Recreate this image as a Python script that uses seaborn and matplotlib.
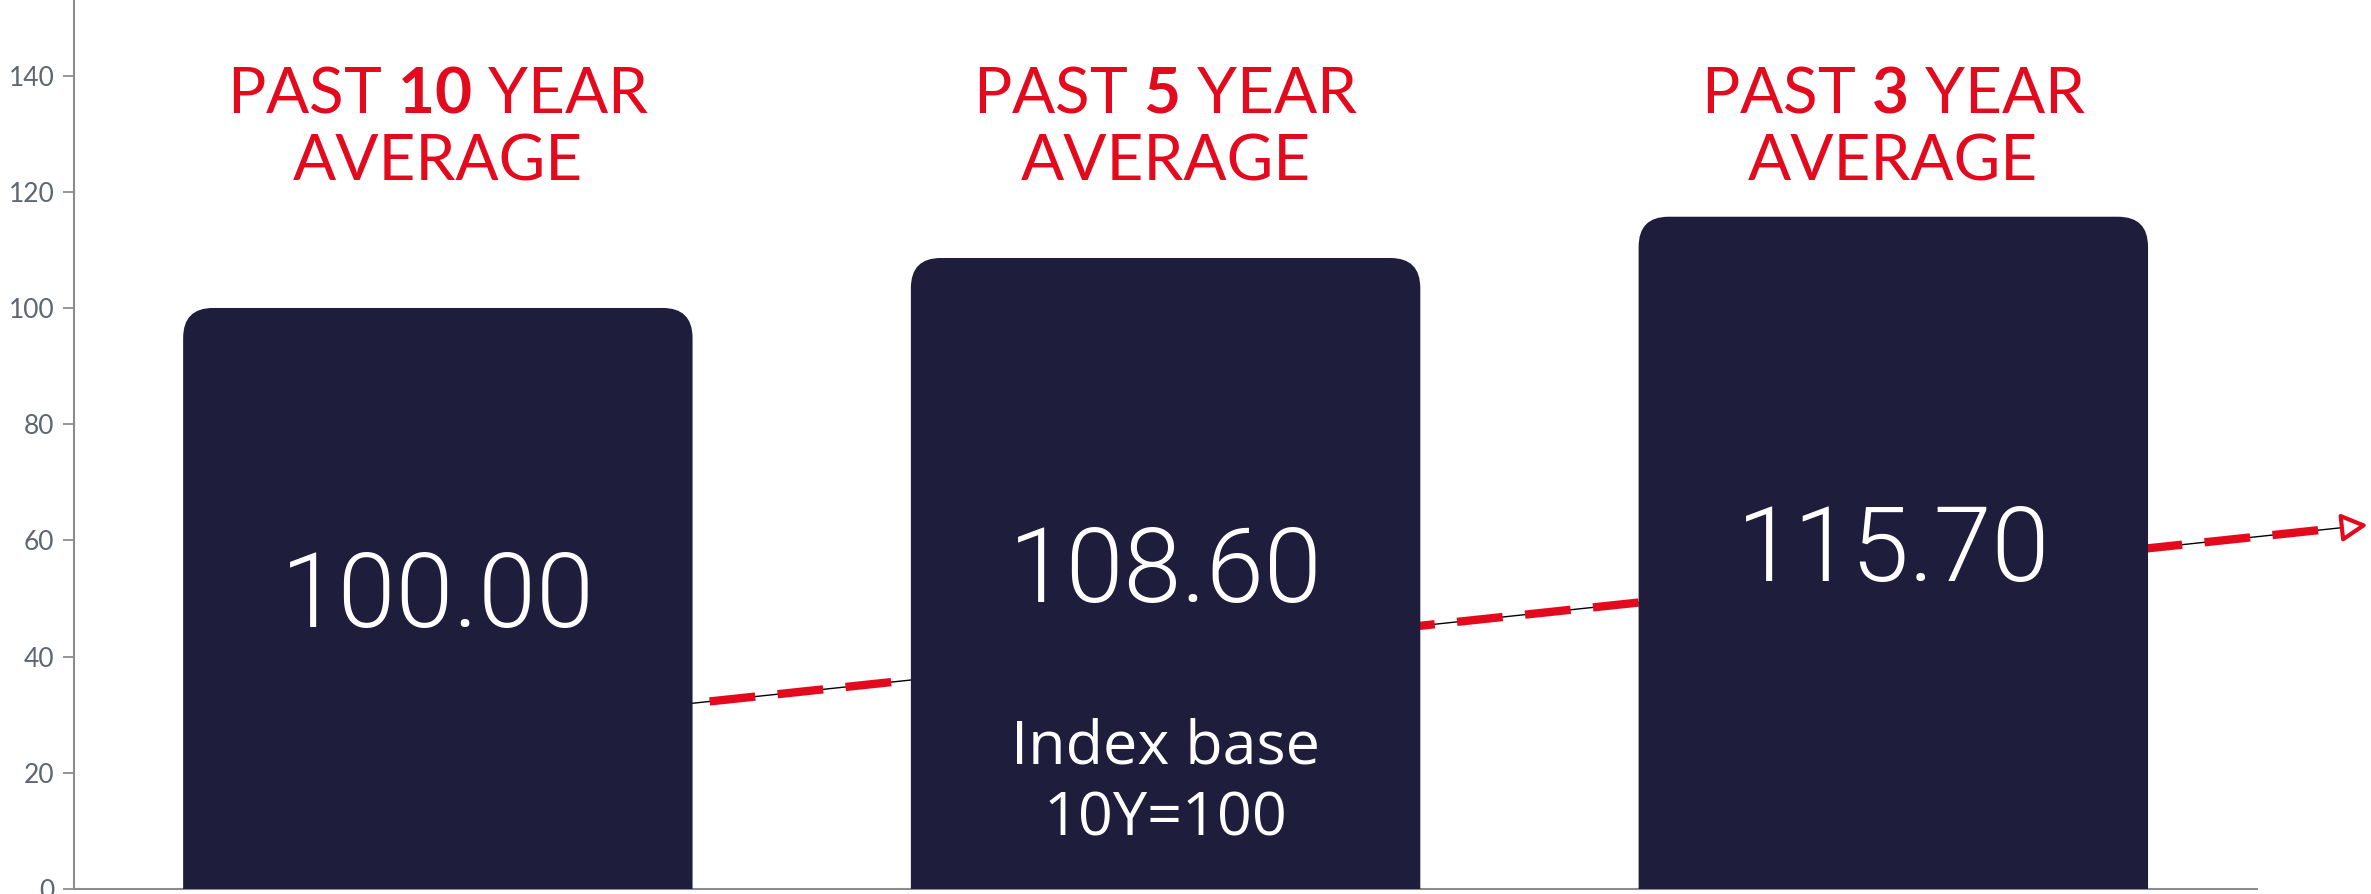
import numpy as np
import pandas as pd
import matplotlib.pyplot as plt
import seaborn as sns
from matplotlib.patches import FancyBboxPatch

# data
periods = ["10", "5", "3"]
index_values = [100.00, 108.60, 115.70]
value_labels = ["100.00", "108.60", "115.70"]
y_ticks = [0, 20, 40, 60, 80, 100, 120, 140]
trend_x = [0.0, 2.64]
trend_y = [27.3, 62.5]
note_lines = ["Index base", "10Y=100"]
note_y = [24.3, 11.9]

BAR = "#1e1d3b"
RED = "#e30a1e"
AXIS = "#8c8c8c"

sns.set_theme(style="white")
plt.rcParams.update(
    {
        "font.family": ["Lato", "DejaVu Sans"],
        "mathtext.fontset": "custom",
        "mathtext.rm": "Lato",
        "mathtext.bf": "Lato:bold",
    }
)

df = pd.DataFrame({"period": periods, "value": index_values})

fig = plt.figure(figsize=(23.71, 8.94), dpi=100)
ax = fig.add_axes([0.0312, 0.0056, 0.9208, 0.9944])

sns.barplot(data=df, x="period", y="value", color=BAR, width=0.70, saturation=1, ax=ax)

ax.set_xlim(-0.5, 2.5)
ax.set_ylim(0, 153)

# swap plain bars for ones with rounded tops
px_x = fig.get_figwidth() * fig.dpi * 0.9208 / 3.0
px_y = fig.get_figheight() * fig.dpi * 0.9944 / 153.0
radius = 30 / px_x
for p in list(ax.patches):
    x0, w, h = p.get_x(), p.get_width(), p.get_height()
    p.remove()
    rb = FancyBboxPatch(
        (x0, -20), w, h + 20,
        boxstyle=f"round,pad=0,rounding_size={radius}",
        mutation_aspect=px_x / px_y,
        fc=BAR, ec="none", zorder=3,
    )
    ax.add_patch(rb)

# trend arrow behind the bars
ax.plot(trend_x, trend_y, color="black", lw=1.0, zorder=1, clip_on=False)
ax.plot(trend_x, trend_y, color=RED, lw=6, dashes=(5.5, 2.7),
        solid_capstyle="butt", dash_capstyle="butt", zorder=1.5, clip_on=False)
dx = trend_x[1] - trend_x[0]
dy = trend_y[1] - trend_y[0]
ax.annotate(
    "", xy=(trend_x[1] + 0.012, trend_y[1] + 0.012 * dy / dx),
    xytext=(trend_x[1] - 0.02, trend_y[1] - 0.02 * dy / dx),
    arrowprops=dict(arrowstyle="-|>,head_length=1.3,head_width=0.7",
                    fc="white", ec=RED, lw=3, shrinkA=0, shrinkB=0),
    annotation_clip=False, zorder=2,
)

for i, (v, lab, per) in enumerate(zip(index_values, value_labels, periods)):
    ax.text(i, v / 2, lab, color="white", fontsize=75, fontweight=300,
            family=["Roboto", "DejaVu Sans"],
            ha="center", va="center", zorder=4)
    ax.text(i, 136.8, f"PAST $\\mathbf{{{per}}}$ YEAR", color=RED, fontsize=46,
            ha="center", va="center", zorder=4)
    ax.text(i, 125.0, "AVERAGE", color=RED, fontsize=46,
            ha="center", va="center", zorder=4)

for line, yy in zip(note_lines, note_y):
    ax.text(1, yy, line, color="white", fontsize=44, family=["Open Sans", "DejaVu Sans"],
            ha="center", va="center", zorder=4)

ax.set_yticks(y_ticks)
ax.set_xticks([])
ax.set_xlabel("")
ax.set_ylabel("")
ax.tick_params(axis="y", length=8, width=1.3, color=AXIS, labelcolor="#5d6671",
               labelsize=19, pad=6, left=True)
sns.despine(ax=ax)
for s in ["left", "bottom"]:
    ax.spines[s].set_color(AXIS)
    ax.spines[s].set_linewidth(1.5)

fig.savefig("out.png", dpi=100)
